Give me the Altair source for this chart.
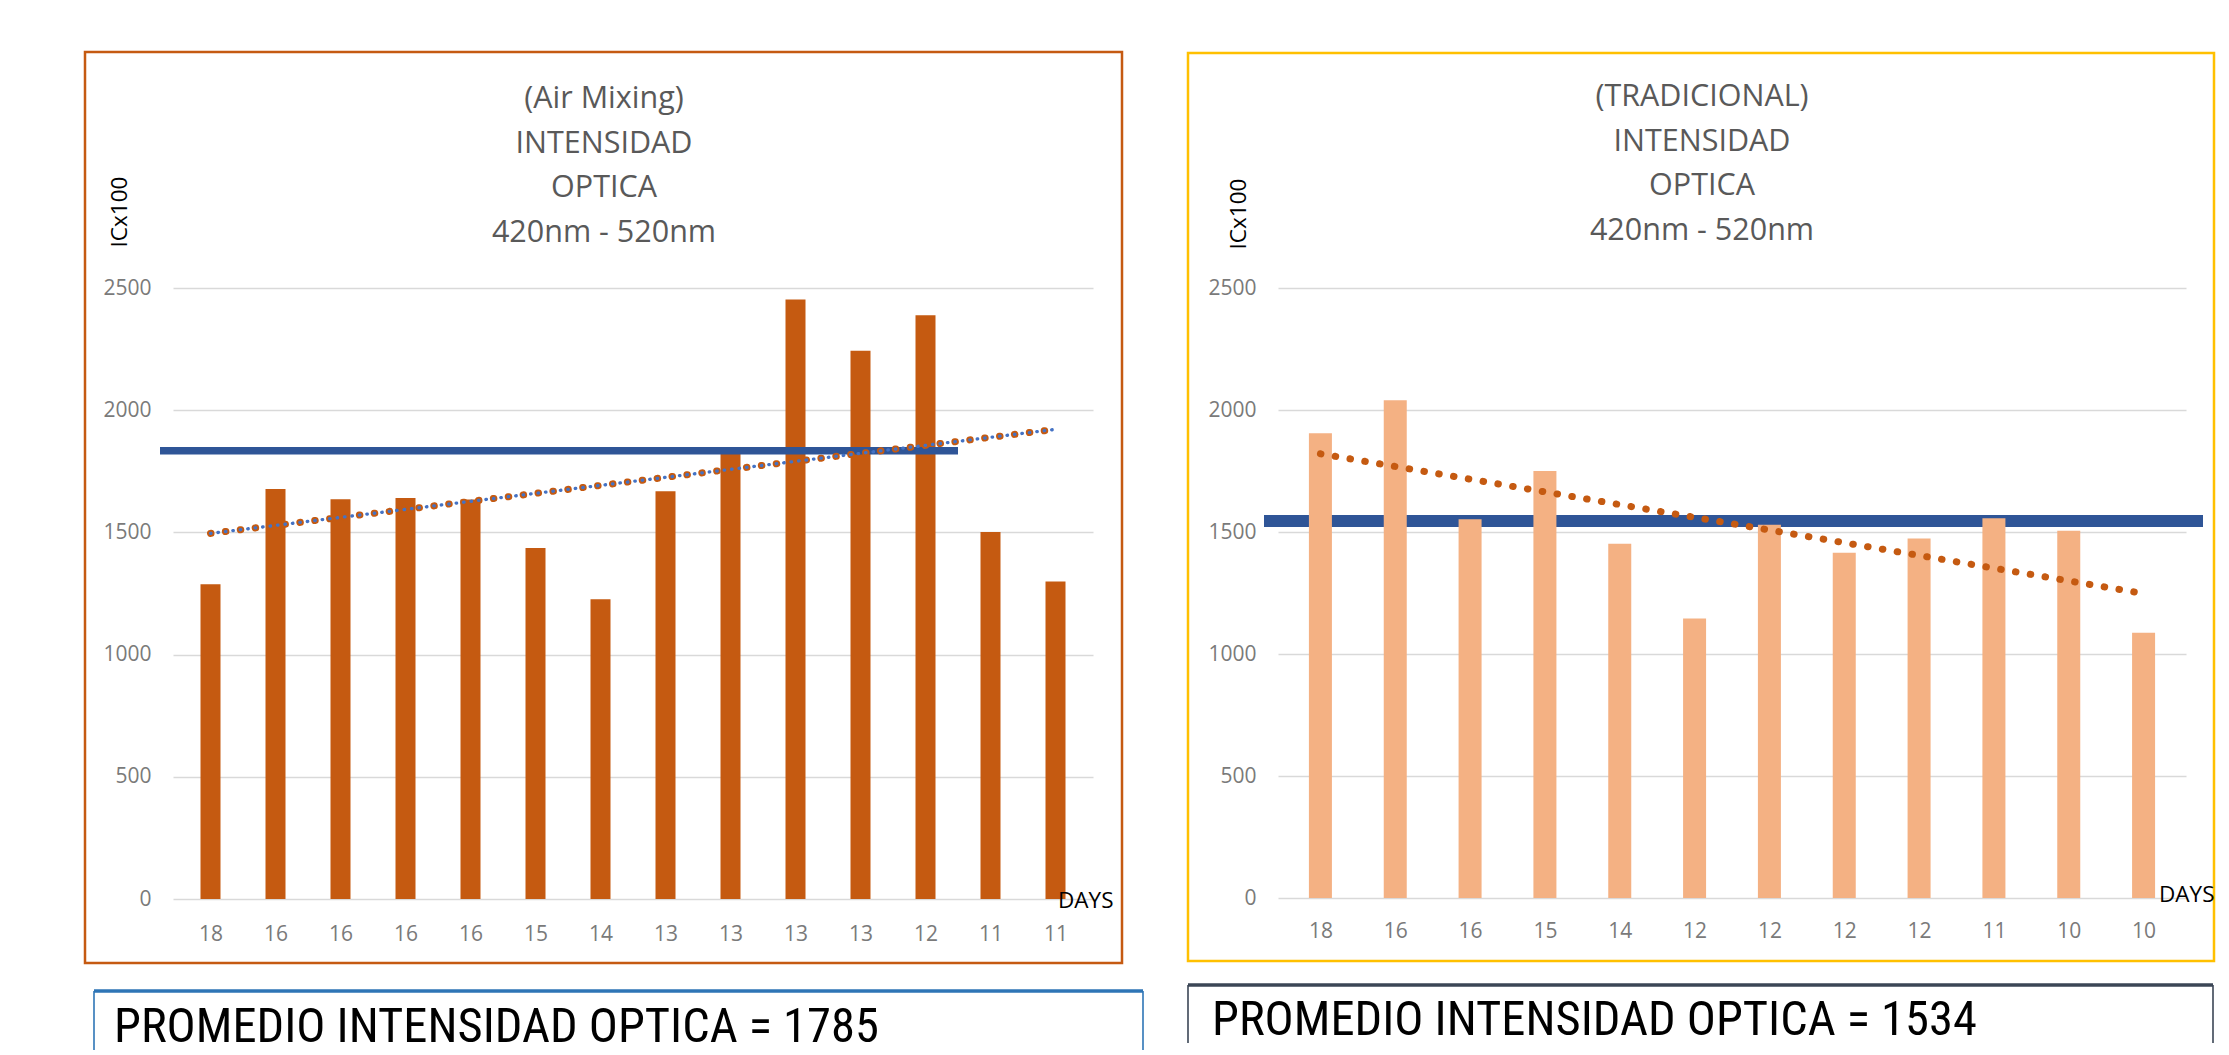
import altair as alt
import pandas as pd

# ---------------- data ----------------
left_days = ["18", "16", "16", "16", "16", "15", "14", "13", "13", "13", "13", "12", "11", "11"]
left_values = [1288, 1678, 1636, 1641, 1635, 1436, 1226, 1668, 1830, 2453, 2243, 2388, 1502, 1299]
left_avg_line = 1834
left_avg_text = 1785
left_title = ["(Air Mixing)", "INTENSIDAD", "OPTICA", "420nm - 520nm"]

right_days = ["18", "16", "16", "15", "14", "12", "12", "12", "12", "11", "10", "10"]
right_values = [1905, 2040, 1552, 1750, 1452, 1145, 1530, 1415, 1473, 1556, 1505, 1087]
right_avg_line = 1545
right_avg_text = 1534
right_title = ["(TRADICIONAL)", "INTENSIDAD", "OPTICA", "420nm - 520nm"]

y_ticks = [0, 500, 1000, 1500, 2000, 2500]

FONT = "Open Sans"
GRAY = "#595959"
TICK_GRAY = "#7a7a7a"
BLUE = "#2F5597"
BOX_FONT = "Roboto Condensed, Liberation Sans Narrow, DejaVu Sans Condensed, Liberation Sans"


def one(v=0):
    return alt.Chart(pd.DataFrame({"k": [v]}))


def panel(days, values, avg_line, avg_text, title, geo):
    n = len(days)
    W, H = geo["W"], geo["H"]
    df = pd.DataFrame({"idx": list(range(1, n + 1)), "value": values, "day": days})
    label_arr = "[" + ",".join("'%s'" % d for d in days) + "]"

    xscale = alt.Scale(domain=[0.5, n + 0.5], nice=False, zero=False)
    yscale = alt.Scale(domain=[0, 2500], nice=False)

    x_axis = alt.Axis(values=list(range(1, n + 1)), labelExpr=label_arr + "[datum.value-1]",
                      grid=False, domain=False, ticks=False, title=None,
                      labelFont=FONT, labelFontSize=21, labelColor=TICK_GRAY,
                      labelPadding=geo["xpad"], labelAngle=0)
    y_axis = alt.Axis(values=y_ticks, format="d", grid=True, gridColor="#D9D9D9", gridWidth=1.4,
                      domain=False, ticks=False, title=None,
                      labelFont=FONT, labelFontSize=21, labelColor=TICK_GRAY,
                      labelPadding=22)

    X = alt.X("idx:Q", scale=xscale, axis=x_axis)
    Y = alt.Y("value:Q", scale=yscale, axis=y_axis)

    # invisible frame that fixes the panel's extent in the concatenation
    frame = one().mark_rect(fill="white", fillOpacity=0).encode(
        x=alt.value(geo["bg"][0]), x2=alt.value(geo["bg"][1]),
        y=alt.value(geo["bg"][2]), y2=alt.value(geo["bg"][3]))

    border = one().mark_rect(filled=False, stroke=geo["border_color"], strokeWidth=2.5).encode(
        x=alt.value(geo["border"][0]), x2=alt.value(geo["border"][1]),
        y=alt.value(geo["border"][2]), y2=alt.value(geo["border"][3]))

    bars = alt.Chart(df).mark_bar(size=geo["bar"], color=geo["bar_color"]).encode(x=X, y=Y)

    avg = alt.Chart(pd.DataFrame({"value": [avg_line]})).mark_rule(
        color=BLUE, strokeWidth=geo["avg_w"]).encode(
        y=Y, x=alt.value(geo["avg_x"][0]), x2=alt.value(geo["avg_x"][1]))

    trend_base = alt.Chart(df).transform_regression("idx", "value")
    trend = [trend_base.mark_line(color="#C55A11", strokeWidth=7, strokeDash=[0.5, 14.5],
                                  strokeCap="round").encode(x=X, y=Y)]
    if geo["trend_blue"]:
        trend.append(trend_base.mark_line(color="#4472C4", strokeWidth=3.3, strokeDash=[0.5, 7.0],
                                          strokeCap="round").encode(x=X, y=Y))

    title_marks = []
    for i, line in enumerate(title):
        title_marks.append(one().mark_text(text=line, font=FONT, fontSize=30.5, color=GRAY,
                                           align="center", baseline="middle").encode(
            x=alt.value(geo["title_x"]), y=alt.value(geo["title_y"] + i * 44.5)))

    ylab = one().mark_text(text="ICx100", font=FONT, fontSize=22.5, color="black", angle=270,
                           align="center", baseline="middle").encode(
        x=alt.value(geo["ylab"][0]), y=alt.value(geo["ylab"][1]))
    days_lab = one().mark_text(text="DAYS", font=FONT, fontSize=22.5, color="black",
                               align="left", baseline="middle").encode(
        x=alt.value(geo["days"][0]), y=alt.value(geo["days"][1]))

    bx0, bx1, by0, by1 = geo["box"]
    box = [
        one().mark_rule(color=geo["box_color"], strokeWidth=3.5).encode(
            x=alt.value(bx0), x2=alt.value(bx1), y=alt.value(by0)),
        one().mark_rule(color=geo["box_color"], strokeWidth=1.6).encode(
            x=alt.value(bx0), y=alt.value(by0), y2=alt.value(by1)),
        one().mark_rule(color=geo["box_color"], strokeWidth=1.6).encode(
            x=alt.value(bx1), y=alt.value(by0), y2=alt.value(by1)),
    ]
    box_text = one().mark_text(text="PROMEDIO INTENSIDAD OPTICA = %d" % avg_text,
                               font=BOX_FONT, fontSize=48.5,
                               color="black", align="left", baseline="alphabetic").encode(
        x=alt.value(geo["box_text"][0]), y=alt.value(geo["box_text"][1]))

    # draw order: frame and border first, then data marks
    if geo["avg_on_top"]:
        ordered = [frame, border, bars, avg] + trend
    else:
        ordered = [frame, border, avg, bars] + trend
    ordered += title_marks + [ylab, days_lab] + box + [box_text]
    return alt.layer(*ordered).properties(width=W, height=H)


left_geo = dict(
    W=920, H=611, xpad=24, bar=20, bar_color="#C55A11", border_color="#C55A11",
    bg=(-165, 982, -273, 762), border=(-88, 949, -236, 675),
    avg_w=7.3, avg_x=(-13, 785), avg_on_top=True, trend_blue=True,
    title_x=431, title_y=-189, ylab=(-53, -76), days=(885, 613),
    box=(-79, 970, 703, 762), box_color="#2E75B6", box_text=(-59, 754),
)
right_geo = dict(
    W=908, H=610, xpad=22, bar=23, bar_color="#F4B183", border_color="#FFC000",
    bg=(-123, 943, -280, 755), border=(-90, 936, -235, 673),
    avg_w=12, avg_x=(-14, 925), avg_on_top=False, trend_blue=False,
    title_x=424, title_y=-191, ylab=(-39, -74), days=(881, 607),
    box=(-90, 935, 697, 755), box_color="#3B4656", box_text=(-66, 747),
)

chart = alt.hconcat(
    panel(left_days, left_values, left_avg_line, left_avg_text, left_title, left_geo),
    panel(right_days, right_values, right_avg_line, right_avg_text, right_title, right_geo),
    spacing=0,
).properties(padding=0).configure_view(stroke=None)

chart.save("out.html", embed_options={"renderer": "svg", "actions": False})
